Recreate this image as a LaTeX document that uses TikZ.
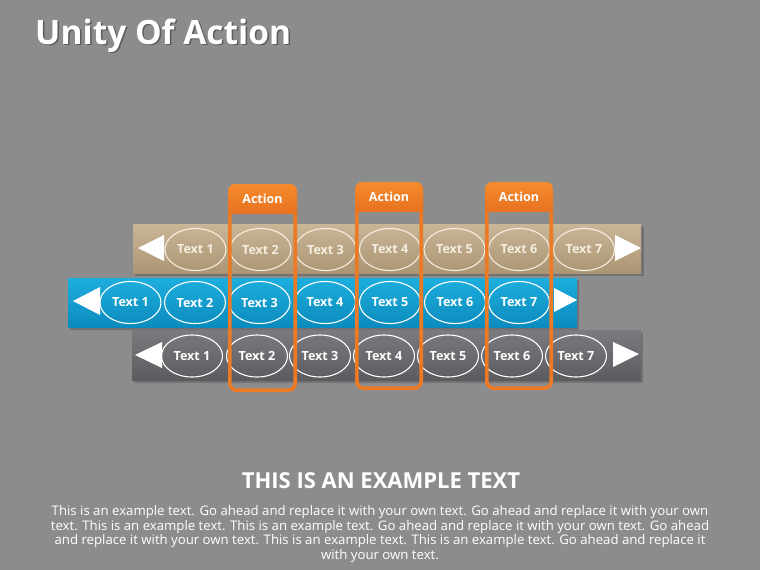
\documentclass[tikz,border=0pt]{standalone}
\usepackage{fontspec}
\setmainfont{Open Sans}
\usetikzlibrary{shapes.geometric}
\definecolor{bg}{HTML}{8C8C8C}
\definecolor{tanT}{HTML}{C9B696}
\definecolor{tanB}{HTML}{AB9575}
\definecolor{bluT}{HTML}{1DAEDD}
\definecolor{bluB}{HTML}{0B8BBD}
\definecolor{gryT}{HTML}{7B7B7F}
\definecolor{gryB}{HTML}{5C5C60}
\definecolor{orL}{HTML}{EC7A25}
\definecolor{orT}{HTML}{F68B2D}
\definecolor{orB}{HTML}{DF6418}
\definecolor{cream}{HTML}{F5EDDF}
\tikzset{
  oval/.style={ellipse, draw=white, line width=1.1pt, minimum width=61pt, minimum height=42pt, inner sep=0pt,
    text=white, font=\fontsize{12.6}{14}\selectfont\bfseries},
  ovaltan/.style={oval, draw=cream, text=cream},
  tri/.style={fill=white},
  bandshadow/.style={fill=black, opacity=0.18},
  frameline/.style={draw=orL, line width=3.6pt, rounded corners=7pt},
  actionlbl/.style={text=white, font=\fontsize{12.5}{14}\selectfont\bfseries, inner sep=0pt},
}
\begin{document}
\begin{tikzpicture}[x=1pt,y=-1pt]
\useasboundingbox (0,0) rectangle (760,570);
\fill[bg] (0,0) rectangle (760,570);
% title
\node[anchor=base west, text=black, opacity=0.35, font=\fontsize{33.5}{38}\selectfont\bfseries, inner sep=0pt] at (36.5,45.5) {Unity Of Action};
\node[anchor=base west, text=white, font=\fontsize{33.5}{38}\selectfont\bfseries, inner sep=0pt] (title) at (35,44) {Unity Of Action};
% band shadows
\fill[bandshadow] (135,227) rectangle (644,276);
\fill[bandshadow] (70,280) rectangle (579,330);
\fill[bandshadow] (134,333) rectangle (643,383);
% bands
\path[top color=tanT, bottom color=tanB] (133,224) rectangle (641,273);
\path[top color=bluT, bottom color=bluB] (68,278) rectangle (577,327);
\path[top color=gryT, bottom color=gryB] (132,330) rectangle (641,380);
% triangles
\fill[tri] (138,248) -- (164,235) -- (164,261) -- cycle;
\fill[tri] (641,248) -- (615,235) -- (615,261) -- cycle;
\fill[tri] (73,301) -- (100,287) -- (100,315) -- cycle;
\fill[tri] (577,300) -- (554,288) -- (554,312) -- cycle;
\fill[tri] (135,355) -- (162,342) -- (162,368) -- cycle;
\fill[tri] (639,354) -- (613,342) -- (613,367) -- cycle;
% tan row
\foreach \i/\x in {1/195.5,2/260.5,3/325.5,4/390,5/454.5,6/519,7/584}
  \node[ovaltan] (a\i) at (\x,249.5) {Text \i};
% blue row
\foreach \i/\x in {1/130.5,2/195,3/259.5,4/325,5/390,6/455,7/519}
  \node[oval] (b\i) at (\x,302.5) {Text \i};
% gray row
\foreach \i/\x in {1/192,2/257,3/320,4/384,5/448,6/512,7/576}
  \node[oval] (c\i) at (\x,356) {Text \i};
% orange frames
\foreach \n/\l/\r/\t/\b in {1/228/297/184/392, 2/355/423/182/390, 3/485/553/182/390}{
  \draw[frameline] (\l+1.8,\t+4) rectangle (\r-1.8,\b-1.8);
  \begin{scope}
    \clip (\l,\t) rectangle (\r,\t+29);
    \path[top color=orT, bottom color=orB, rounded corners=7pt] (\l,\t) rectangle (\r,\t+45);
  \end{scope}
  \node[actionlbl] (act\n) at ({(\l+\r)/2},\t+14.5) {Action};
}
% bottom text
\node[text=white, font=\fontsize{22}{26}\selectfont\bfseries, inner sep=0pt] (head) at (381,481) {THIS IS AN EXAMPLE TEXT};
\node[text=white, font=\fontsize{13.2}{14.6}\selectfont, align=center, inner sep=0pt] (body) at (380,534) {This is an example text. Go ahead and replace it with your own text. Go ahead and replace it with your own\\
text. This is an example text. This is an example text. Go ahead and replace it with your own text. Go ahead\\
and replace it with your own text. This is an example text. This is an example text. Go ahead and replace it\\
with your own text.};
\end{tikzpicture}
\end{document}
